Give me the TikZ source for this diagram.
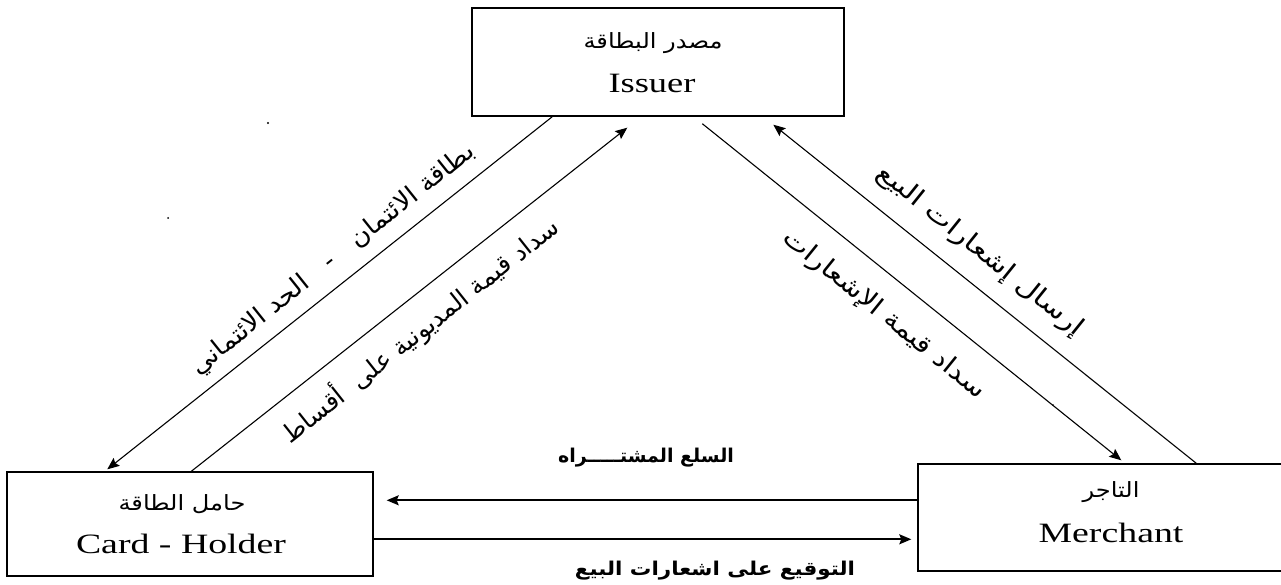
\documentclass[tikz,border=0pt]{standalone}
\usepackage{fontspec}
\setmainfont{Liberation Serif}
\newfontfamily\arabicfont[Script=Arabic]{DejaVu Sans}
\TeXXeTstate=1
\usetikzlibrary{arrows.meta,calc}
\tikzset{
  box/.style={draw, line width=1.4pt, inner sep=0pt},
  conn/.style={line width=1.1pt},
  hconn/.style={line width=1.7pt},
  tip/.style={-{Stealth[length=12pt,width=10pt,inset=2pt]}},
  entext/.style={inner sep=0pt, font=\fontsize{28}{30}\selectfont},
  artext/.style={inner sep=0pt, font=\arabicfont\fontsize{21}{24}\selectfont},
  diag/.style={inner sep=0pt, font=\arabicfont\fontsize{25}{28}\selectfont},
  hlab/.style={inner sep=0pt, font=\arabicfont\bfseries\fontsize{19}{22}\selectfont},
}
\begin{document}
\begin{tikzpicture}[x=1pt,y=-1pt]
\useasboundingbox (0,0) rectangle (1281,585);
% boxes
\node[box, minimum width=372pt, minimum height=108pt] (iss) at (658,62) {};
\node[box, minimum width=366pt, minimum height=104pt] (ch) at (190,524) {};
\node[box, minimum width=382pt, minimum height=107pt] (me) at (1109,517.5) {};
% box texts
\node[artext] (issar) at (653,43) {\scalebox{1.15}[1]{\beginR مصدر البطاقة\endR}};
\node[entext] (issen) at (652,83) {\scalebox{1.3}[1]{Issuer}};
\node[artext] (char) at (182,504) {\scalebox{1.15}[1]{\beginR حامل الطاقة\endR}};
\node[entext] (chen) at (181,544) {\scalebox{1.35}[1]{Card - Holder}};
\node[artext] (mear) at (1111,492) {\scalebox{1.15}[1]{\beginR التاجر\endR}};
\node[entext] (meen) at (1111,533) {\scalebox{1.35}[1]{Merchant}};
% endpoints
\coordinate (l1s) at ($(iss.south west)+(81,0)$);
\coordinate (l1e) at ($(ch.north west)+(101,-2)$);
\coordinate (l2s) at ($(ch.north west)+(185,0)$);
\coordinate (l2e) at ($(iss.south west)+(156,11)$);
\coordinate (r1s) at ($(iss.south west)+(231,7)$);
\coordinate (r1e) at ($(me.north west)+(204,-3)$);
\coordinate (r2s) at ($(me.north west)+(279,0)$);
\coordinate (r2e) at ($(iss.south west)+(302,8)$);
\coordinate (h1s) at ($(me.north west)+(0,37)$);
\coordinate (h1e) at ($(ch.north east)+(13,29)$);
\coordinate (h2s) at ($(ch.north east)+(0,68)$);
\coordinate (h2e) at ($(me.north west)+(-6,76)$);
% connectors
\draw[conn,tip] (l1s) -- (l1e);
\draw[conn,tip] (l2s) -- (l2e);
\draw[conn,tip] (r1s) -- (r1e);
\draw[conn,tip] (r2s) -- (r2e);
\draw[hconn,tip] (h1s) -- (h1e);
\draw[hconn,tip] (h2s) -- (h2e);
% labels
\node[diag, rotate=38.6] (lab1) at (333,260) {\scalebox{1.05}[1]{\beginR بطاقة الائتمان \ \ - \ \ الحد الائتماني\endR}};
\node[diag, rotate=38.4] (lab2) at (420,330) {\beginR سداد قيمة المديونية على \ أقساط\endR};
\node[diag, rotate=-38.8] (lab3) at (980,251) {\scalebox{1.2}[1]{\beginR إرسال إشعارات البيع\endR}};
\node[diag, rotate=-38.9] (lab4) at (884,315) {\scalebox{1.15}[1]{\beginR سداد قيمة الإشعارات\endR}};
\node[hlab] (lab5) at (646,458) {\beginR السلع المشتـــــراه\endR};
\node[hlab] (lab6) at (715,571) {\scalebox{1.13}[1]{\beginR التوقيع على اشعارات البيع\endR}};
% specks
\fill (268,123) circle (1.2pt);
\fill (168,218) circle (1pt);
\fill (1053,405) circle (0.8pt);
\end{tikzpicture}
\end{document}
